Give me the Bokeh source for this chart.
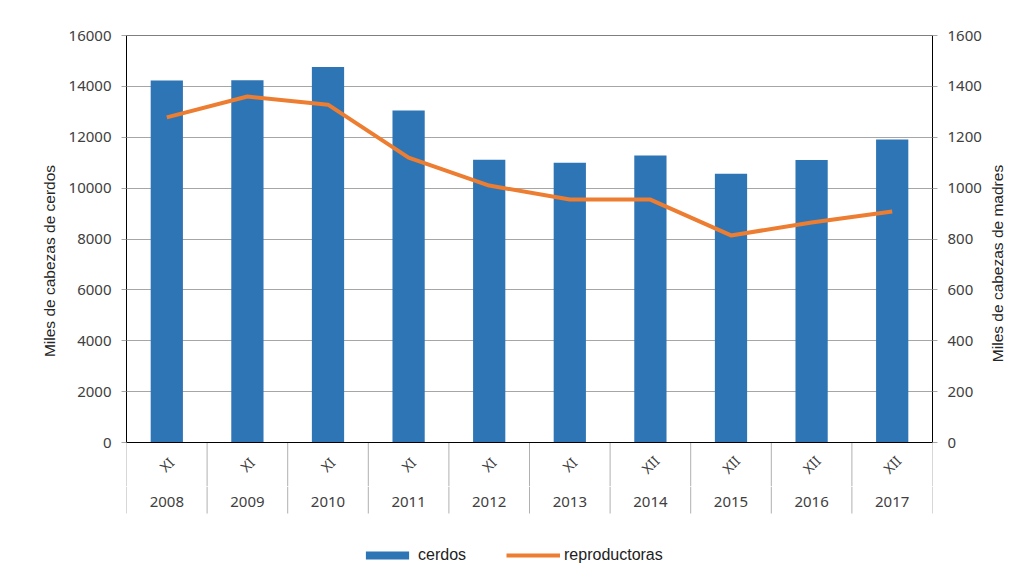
import math
from bokeh.plotting import figure
from bokeh.layouts import column, row
from bokeh.models import (FactorRange, Range1d, LinearAxis, FixedTicker, Legend, LegendItem, Span)
from bokeh.core.properties import value
from bokeh.embed import file_html
from bokeh.resources import INLINE

years = ["2008", "2009", "2010", "2011", "2012", "2013", "2014", "2015", "2016", "2017"]
months = ["XI", "XI", "XI", "XI", "XI", "XI", "XII", "XII", "XII", "XII"]
cerdos = [14230, 14240, 14760, 13050, 11120, 11000, 11280, 10570, 11110, 11910]
reproductoras = [1278, 1360, 1328, 1120, 1010, 955, 955, 814, 865, 908]
left_ticks = [0, 2000, 4000, 6000, 8000, 10000, 12000, 14000, 16000]
right_ticks = [0, 200, 400, 600, 800, 1000, 1200, 1400, 1600]

BLUE = "#2e75b6"
ORANGE = "#ed7d31"
GRID = "#a6a6a6"
SEP = "#b0b0b0"
TICKFONT = "Noto Sans"
LABELFONT = "Liberation Sans"

W, H = 1036, 583
RW = 51                                   # width of the strip holding the right axis title
MW = W - RW                               # width of the main column
TOP, ZERO_ROW, SPLIT = 35, 442, 486       # pixel rows: 16000, 0, split between figures
YMAX, RMAX = 16000, 1600
upp = YMAX / (ZERO_ROW - TOP)             # data units per pixel
Y_SPLIT = -(SPLIT - ZERO_ROW) * upp
Y_BOTTOM = -(H - ZERO_ROW) * upp
SEP_BOTTOM = -(513 - ZERO_ROW) * upp
MONTH_Y = -(464 - ZERO_ROW) * upp
YEAR_Y = -(501 - ZERO_ROW) * upp
LEFT, RIGHT = 126, MW - 932

xr = FactorRange(*years, factor_padding=0, range_padding=0)

p = figure(width=MW, height=SPLIT, output_backend="svg", toolbar_location=None,
           x_range=xr, y_range=Range1d(Y_SPLIT, YMAX), x_axis_location=None,
           min_border_left=LEFT, min_border_right=RIGHT, min_border_top=TOP, min_border_bottom=0)
p.extra_y_ranges = {"right": Range1d(Y_SPLIT * RMAX / YMAX, RMAX)}
p.outline_line_color = None
p.xgrid.grid_line_color = None
p.yaxis.ticker = FixedTicker(ticks=left_ticks)
p.ygrid.grid_line_color = GRID
p.ygrid.grid_line_width = 1

bars = p.vbar(x=years, top=cerdos, width=0.4, fill_color=BLUE, line_color=None)
line = p.line(x=years, y=reproductoras, line_color=ORANGE, line_width=4,
              line_join="round", y_range_name="right")

p.add_layout(Span(location=YMAX, dimension="width", line_color="black", line_width=1))
p.add_layout(Span(location=0, dimension="width", line_color="black", line_width=1))

seps = list(range(len(years) + 1))
p.segment(x0=seps, y0=0, x1=seps, y1=Y_SPLIT, line_color=SEP, line_width=1)
p.text(x=years, y=MONTH_Y, text=months, angle=math.pi / 4, text_align="center",
       text_baseline="middle", text_font=value(TICKFONT), text_font_size="14px",
       text_color="#404040")

la = p.yaxis[0]
la.axis_label = "Miles de cabezas de cerdos"
ra = LinearAxis(y_range_name="right", ticker=FixedTicker(ticks=right_ticks))
p.add_layout(ra, "right")
la.bounds = (0, YMAX)
ra.bounds = (0, RMAX)

for ax in [la, ra]:
    ax.axis_line_color = "black"
    ax.major_tick_line_color = GRID
    ax.major_tick_in = 0
    ax.major_tick_out = 5
    ax.minor_tick_line_color = None
    ax.major_label_text_font = TICKFONT
    ax.major_label_text_font_size = "15px"
    ax.major_label_text_color = "#404040"
    ax.axis_label_text_font = LABELFONT
    ax.axis_label_text_font_size = "15.5px"
    ax.axis_label_text_font_style = "normal"
    ax.axis_label_text_color = "#262626"
    ax.major_label_standoff = 10
    ax.axis_label_standoff = 8

# lower strip: rest of the category separators, years, legend
q = figure(width=MW, height=H - SPLIT, output_backend="svg", toolbar_location=None,
           x_range=xr, y_range=Range1d(Y_BOTTOM, Y_SPLIT),
           x_axis_location=None, y_axis_location=None,
           min_border_left=LEFT, min_border_right=RIGHT, min_border_top=0, min_border_bottom=0)
q.outline_line_color = None
q.xgrid.grid_line_color = None
q.ygrid.grid_line_color = None
q.segment(x0=seps, y0=Y_SPLIT, x1=seps, y1=SEP_BOTTOM, line_color=SEP, line_width=1)
q.text(x=years, y=YEAR_Y, text=years, text_align="center", text_baseline="middle",
       text_font=value(TICKFONT), text_font_size="15px", text_color="#404040")

# same series in the lower strip, on a range far from them (not visible), for the legend glyphs
q.extra_y_ranges = {"hidden": Range1d(10 * YMAX, 20 * YMAX)}
lb = q.vbar(x=years, top=cerdos, width=0.4, fill_color=BLUE, line_color=None, y_range_name="hidden")
ll = q.line(x=years, y=reproductoras, line_color=ORANGE, line_width=4, y_range_name="hidden")
legend = Legend(items=[LegendItem(label="cerdos", renderers=[lb]),
                       LegendItem(label="reproductoras", renderers=[ll])],
                orientation="horizontal", location=(234, 19),
                border_line_color=None, background_fill_alpha=0,
                margin=0, padding=0, label_standoff=4,
                glyph_width=54, glyph_height=10, spacing=40,
                label_text_font=LABELFONT, label_text_font_size="16px",
                label_text_color="#222222")
q.add_layout(legend, "center")

# right strip: title of the right axis, reading upwards
r = figure(width=RW, height=H, output_backend="svg", toolbar_location=None,
           x_range=Range1d(0, RW), y_range=Range1d(H, 0),
           x_axis_location=None, y_axis_location=None,
           min_border_left=0, min_border_right=0, min_border_top=0, min_border_bottom=0)
r.outline_line_color = None
r.xgrid.grid_line_color = None
r.ygrid.grid_line_color = None
r.text(x=[997 - MW], y=[263], text=["Miles de cabezas de madres"], angle=math.pi / 2,
       text_align="center", text_baseline="middle", text_font=value(LABELFONT),
       text_font_size="15.5px", text_color="#262626")

layout = row(column(p, q, spacing=0), r, spacing=0)
open("out.html", "w").write(file_html(layout, INLINE))
